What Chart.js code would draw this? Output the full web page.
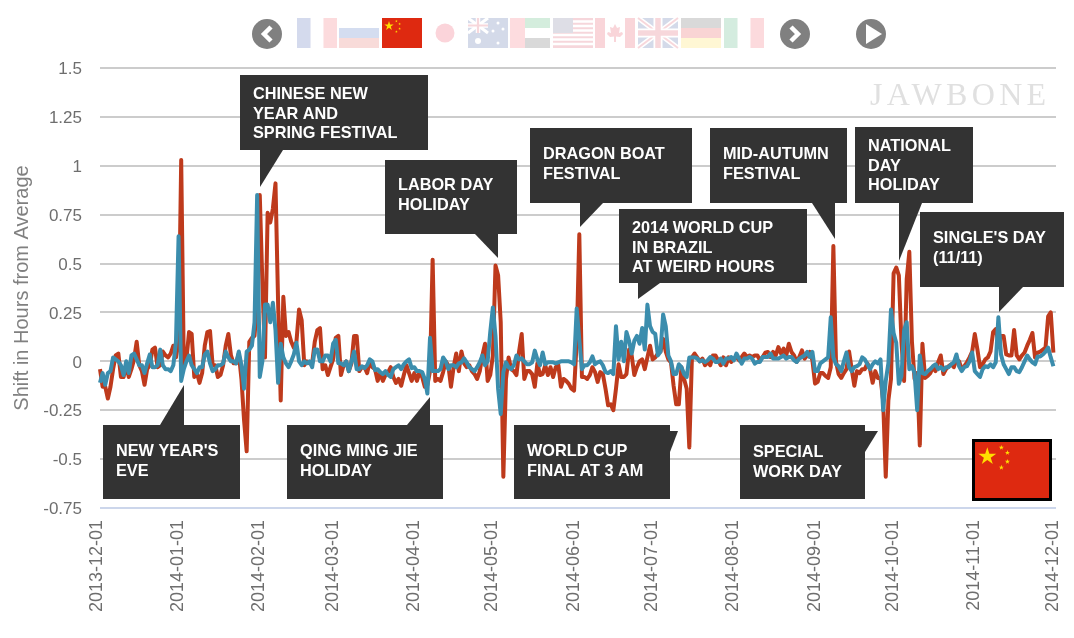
<!DOCTYPE html>
<html>
<head>
<meta charset="utf-8">
<title>Shift in Hours from Average</title>
<script src="https://cdn.jsdelivr.net/npm/chart.js@4/dist/chart.umd.min.js"></script>
<style>
  html, body { margin: 0; padding: 0; background: #fff; overflow: hidden; }
  #wrap { position: relative; width: 1074px; height: 638px; }
  #chart { position: absolute; left: 0; top: 0; }
  #overlay { position: absolute; left: 0; top: 0; pointer-events: none; }
</style>
</head>
<body>
<div id="wrap">
  <canvas id="chart" width="1074" height="638"></canvas>
  <svg id="overlay" width="1074" height="638" xmlns="http://www.w3.org/2000/svg">
    <defs>
      <polygon id="smallStar" points="0,-1.4 .33,-.43 1.33,-.43 .53,.16 .82,1.13 0,.53 -.82,1.13 -.53,.16 -1.33,-.43 -.33,-.43" fill="#FFDE00"/>
      <g id="cn">
        <rect width="40" height="30" fill="#DE2910"/>
        <polygon points="7,3 8.1,6.4 11.7,6.4 8.8,8.5 9.9,11.9 7,9.8 4.1,11.9 5.2,8.5 2.3,6.4 5.9,6.4" fill="#FFDE00"/>
        <use href="#smallStar" x="14.4" y="3.2"/>
        <use href="#smallStar" x="17.6" y="5.9"/>
        <use href="#smallStar" x="17.6" y="10.6"/>
        <use href="#smallStar" x="14.4" y="13.7"/>
      </g>
    </defs>

    <text x="870" y="105" font-family="Liberation Serif" font-size="32" letter-spacing="4.3" fill="#e0e0e0">JAWBONE</text>

    <!-- nav buttons -->
    <circle cx="267" cy="34" r="15" fill="#808080"/>
    <polyline points="271,27 264,34 271,41" fill="none" stroke="#fff" stroke-width="4.5"/>
    <circle cx="795" cy="34" r="15" fill="#808080"/>
    <polyline points="791,27 798,34 791,41" fill="none" stroke="#fff" stroke-width="4.5"/>
    <circle cx="871" cy="34" r="15" fill="#808080"/>
    <polygon points="866,24 866,44 882,34" fill="#fff"/>

    <!-- flags -->
    <g opacity="0.17">
      <g transform="translate(297,18)">
        <rect width="13.5" height="30" fill="#002395"/><rect x="26.5" width="13.5" height="30" fill="#ED2939"/>
      </g>
      <g transform="translate(339,18)">
        <rect y="10" width="40" height="10" fill="#0039A6"/><rect y="20" width="40" height="10" fill="#D52B1E"/>
      </g>
      <g transform="translate(425,18)">
        <circle cx="20" cy="15" r="9.5" fill="#E60026"/>
      </g>
      <g transform="translate(468,18)">
        <rect width="40" height="30" fill="#00247D"/>
        <path d="M0,0 L20,15 M20,0 L0,15" stroke="#fff" stroke-width="3"/>
        <path d="M10,0 V15 M0,7.5 H20" stroke="#fff" stroke-width="4.5"/>
        <path d="M10,0 V15 M0,7.5 H20" stroke="#CF142B" stroke-width="2.2"/>
        <circle cx="10" cy="23" r="3" fill="#fff"/><circle cx="30" cy="5" r="1.5" fill="#fff"/>
        <circle cx="25" cy="13" r="1.5" fill="#fff"/><circle cx="35" cy="11" r="1.5" fill="#fff"/>
        <circle cx="30" cy="25" r="1.5" fill="#fff"/>
      </g>
      <g transform="translate(510,18)">
        <rect width="15" height="30" fill="#EF3340"/><rect x="15" width="25" height="10" fill="#009739"/>
        <rect x="15" y="20" width="25" height="10" fill="#222"/>
      </g>
      <g transform="translate(553,18)">
        <rect width="40" height="30" fill="#C8102E"/>
        <path d="M0,3.5 H40 M0,8 H40 M0,12.5 H40 M0,17 H40 M0,21.5 H40 M0,26 H40" stroke="#fff" stroke-width="2.3"/>
        <rect width="20" height="15" fill="#3C3B6E"/>
      </g>
      <g transform="translate(595,18)">
        <rect width="10" height="30" fill="#D80621"/><rect x="30" width="10" height="30" fill="#D80621"/>
        <polygon points="20,6 22,10 25,9 24,15 27,14 28,16 25,19 21,18.5 21,24 19,24 19,18.5 15,19 12,16 13,14 16,15 15,9 18,10" fill="#D80621"/>
      </g>
      <g transform="translate(638,18)">
        <rect width="40" height="30" fill="#00247D"/>
        <path d="M0,0 L40,30 M40,0 L0,30" stroke="#fff" stroke-width="5"/>
        <path d="M0,0 L40,30 M40,0 L0,30" stroke="#CF142B" stroke-width="2"/>
        <path d="M20,0 V30 M0,15 H40" stroke="#fff" stroke-width="9"/>
        <path d="M20,0 V30 M0,15 H40" stroke="#CF142B" stroke-width="5.5"/>
      </g>
      <g transform="translate(681,18)">
        <rect width="40" height="10" fill="#222"/><rect y="10" width="40" height="10" fill="#DD0000"/>
        <rect y="20" width="40" height="10" fill="#FFCE00"/>
      </g>
      <g transform="translate(724,18)">
        <rect width="13.5" height="30" fill="#008C45"/><rect x="26.5" width="13.5" height="30" fill="#EE2436"/>
      </g>
    </g>
    <use href="#cn" transform="translate(382,18)"/>

    <!-- corner flag -->
    <g transform="translate(974,441.5) scale(1.9)"><use href="#cn"/></g>
    <rect x="973.5" y="440.5" width="77" height="59" fill="none" stroke="#000" stroke-width="3"/>
  </svg>
</div>

<script>
const monthTicks = ['2013-12-01', '2014-01-01', '2014-02-01', '2014-03-01', '2014-04-01', '2014-05-01',
    '2014-06-01', '2014-07-01', '2014-08-01', '2014-09-01', '2014-10-01', '2014-11-01', '2014-12-01'];
const yTicks = [1.5, 1.25, 1, 0.75, 0.5, 0.25, 0, -0.25, -0.5, -0.75];

// daily values from 2013-12-01, ten to a row
const redSeries = [
    -.04, -.13, -.13, -.19, -.13, -.04, .03, .04, -.08, -.08,
    -.02, -.08, -.04, .01, .10, -.02, -.05, -.12, -.04, -.02,
    .06, .07, -.03, -.02, .05, .03, .02, .04, .08, .02,
    .1, 1.03, -.02, .01, .15, .14, -.08, -.06, -.11, -.06,
    .08, .15, .155, -.02, -.02, -.08, -.07, -.02, .08, .14,
    .03, -.01, -.01, .04, -.09, -.3, -.46, .1, .12, .13,
    .3, .85, .4, .02, .76, .71, .78, .91, .3, -.2,
    .33, .13, .15, .1, .07, .1, .265, .21, -.02, 0,
    -.01, -.01, .1, .16, .17, -.04, -.02, -.07, -.03, .01,
    .12, .13, -.07, -.02, 0, -.05, -.01, .13, .13, -.05,
    -.03, -.03, -.06, 0, -.03, -.04, -.1, -.06, -.1, -.07,
    -.055, -.03, -.08, -.11, -.09, -.125, -.07, -.02, -.06, -.1,
    -.06, -.1, -.055, -.08, -.13, -.12, -.05, .52, -.1, -.09,
    -.1, -.055, 0, -.02, -.13, -.03, .04, -.05, .05, -.01,
    -.03, -.02, -.05, -.065, -.09, -.05, .03, .09, -.1, -.07,
    .03, .49, .44, .2, -.59, -.09, .02, -.04, -.05, -.07,
    .05, .14, -.09, -.05, -.05, -.065, -.13, -.01, -.07, -.065,
    -.02, -.07, -.03, -.08, -.03, -.02, -.13, -.09, -.1, -.115,
    -.14, -.15, .1, .65, -.08, -.08, -.09, -.07, -.03, -.055,
    -.105, -.055, -.065, -.14, -.225, -.22, -.25, -.14, -.015, -.08,
    -.08, -.065, .06, .03, -.07, -.03, 0, .01, -.04, .02,
    .08, .01, .02, .04, .05, .115, .05, .01, -.005, -.125,
    -.22, -.22, -.03, -.09, -.14, -.44, .02, .04, .02, 0,
    .014, -.02, -.003, -.02, .03, .03, .005, -.02, .02, -.02,
    .02, -.003, .014, .022, .005, .022, .04, .022, .03, .022,
    .03, .03, .005, .022, .044, .048, .022, .048, .03, .073,
    .04, .065, .03, .09, .048, .03, -.003, .022, .056, .014,
    .03, .048, .005, -.114, -.105, -.06, -.06, -.075, -.085, -.03,
    .59, 0, -.065, -.085, -.06, -.04, .05, -.04, -.125, -.05,
    -.06, -.04, -.04, -.01, -.04, -.11, -.05, -.085, -.085, -.2,
    -.59, -.2, -.09, .45, .48, .44, .1, -.1, .42, .56,
    .1, -.09, -.06, -.43, .09, -.085, -.075, -.06, -.03, -.05,
    -.005, .03, -.065, -.04, -.025, -.015, -.03, .01, 0, -.04,
    -.025, -.005, .02, .05, .14, .06, -.03, -.015, .01, .02,
    .05, .15, .165, .1, .13, .13, .035, .03, .03, .16,
    .03, .01, .03, .045, .08, .11, .145, .02, .045, .05,
    .06, .07, .23, .25, .045
];
const blueSeries = [
    -.11, -.06, -.12, -.06, -.05, .02, .01, 0, -.02, -.07,
    0, -.06, .03, .04, .01, -.02, -.02, -.06, -.01, .035,
    -.03, -.03, -.02, .06, -.02, -.04, -.04, -.05, -.02, .1,
    .64, -.1, -.04, 0, .03, -.02, -.04, -.06, -.03, -.03,
    .035, .05, -.01, -.05, -.04, -.02, -.02, -.01, .05, .02,
    0, 0, -.01, .05, -.02, -.14, .05, .06, .08, .2,
    .85, -.08, 0, .29, .29, .2, .3, .16, -.11, .09,
    .02, -.01, -.03, 0, .035, .095, 0, -.02, 0, -.01,
    0, -.03, .06, .06, 0, 0, .03, .03, 0, .09,
    .11, -.01, -.01, -.02, 0, -.05, 0, .05, -.04, -.04,
    -.025, -.035, -.02, .01, 0, -.045, -.04, -.055, -.065, -.05,
    -.07, -.08, -.04, -.03, -.02, -.04, -.015, 0, .01, -.035,
    -.03, -.05, -.05, -.055, -.09, -.165, .12, -.05, -.05, -.05,
    -.04, .02, 0, -.04, -.02, -.02, -.03, -.01, -.005, .015,
    -.005, -.03, -.04, -.05, -.03, -.005, .03, -.02, 0, .15,
    .275, .13, -.14, -.27, -.055, -.005, -.03, -.04, -.02, .03,
    .01, .015, 0, -.015, -.015, -.005, .055, .01, -.02, .045,
    -.015, -.005, -.005, -.005, -.01, -.005, 0, 0, 0, 0,
    -.005, -.015, .27, .11, -.04, -.02, -.02, -.005, .025, -.015,
    -.005, 0, -.02, -.055, -.06, -.05, -.065, .18, .01, .1,
    0, .15, .105, .04, .105, .13, .09, .17, .06, .29,
    .18, .15, .14, .03, .05, .24, .18, .03, 0, -.065,
    -.065, -.015, -.03, -.065, -.08, .02, .02, .02, .015, 0,
    .005, -.003, .005, .022, .014, -.003, -.003, .014, -.012, .014,
    .014, .022, .005, .04, .014, -.012, .014, .014, .022, .014,
    -.012, -.003, -.003, .022, .022, .022, .04, .014, .014, .014,
    .022, .03, .014, .022, .022, .005, -.003, .014, .022, .03,
    .048, .022, .048, -.05, -.05, -.01, 0, .01, .02, .225,
    .02, -.015, -.025, -.05, 0, .045, -.03, -.05, -.03, -.025,
    -.015, .02, .01, -.015, -.04, -.015, 0, -.01, .01, -.25,
    -.1, -.01, .265, .145, .095, -.115, -.075, .16, .2, -.04,
    -.025, -.06, -.25, .03, -.06, -.065, -.05, -.04, -.025, -.015,
    -.04, -.03, -.045, -.03, -.03, -.015, -.005, .035, -.025, -.05,
    -.03, -.025, 0, .045, -.05, -.065, -.08, -.04, -.025, -.03,
    -.015, -.03, -.005, .225, .035, -.015, -.04, -.065, -.03, -.03,
    -.05, -.055, -.03, 0, .03, .01, -.005, -.015, .025, .025,
    .035, .05, .07, .02, -.025
];

const calloutText = [
    ['CHINESE NEW', 'YEAR AND', 'SPRING FESTIVAL'],
    ["NEW YEAR'S", 'EVE'],
    ['QING MING JIE', 'HOLIDAY'],
    ['LABOR DAY', 'HOLIDAY'],
    ['DRAGON BOAT', 'FESTIVAL'],
    ['2014 WORLD CUP', 'IN BRAZIL', 'AT WEIRD HOURS'],
    ['WORLD CUP', 'FINAL AT 3 AM'],
    ['MID-AUTUMN', 'FESTIVAL'],
    ['NATIONAL', 'DAY', 'HOLIDAY'],
    ['SPECIAL', 'WORK DAY'],
    ["SINGLE'S DAY", '(11/11)']
];

// one entry per callout: box [x, y, w, h], pointer triangle, first baseline
const calloutLayout = [
    { box: [240, 75, 188, 75], tip: [[260, 150], [260, 187], [283, 150]], baseline: 99 },
    { box: [103, 425, 137, 74], tip: [[160, 425], [184, 385], [184, 425]], baseline: 456 },
    { box: [287, 425, 156, 74], tip: [[407, 425], [430, 397], [430, 425]], baseline: 456 },
    { box: [385, 160, 132, 74], tip: [[475, 234], [498, 258], [498, 234]], baseline: 190 },
    { box: [530, 128, 162, 75], tip: [[580, 203], [580, 227], [603, 203]], baseline: 159 },
    { box: [619, 209, 188, 74], tip: [[638, 283], [638, 299], [660, 283]], baseline: 233 },
    { box: [514, 425, 156, 74], tip: [[670, 431], [678, 431], [670, 452]], baseline: 456 },
    { box: [710, 128, 137, 75], tip: [[812, 203], [835, 239], [835, 203]], baseline: 159 },
    { box: [855, 127, 118, 76], tip: [[899, 203], [899, 261], [922, 203]], baseline: 151 },
    { box: [740, 425, 125, 74], tip: [[865, 431], [878, 431], [865, 452]], baseline: 457 },
    { box: [920, 212, 144, 75], tip: [[999, 287], [999, 312], [1023, 287]], baseline: 243 }
];

// category labels, one per day
const dayLabels = [];
for (let d = new Date(Date.UTC(2013, 11, 1)); d <= new Date(Date.UTC(2014, 11, 1)); d.setUTCDate(d.getUTCDate() + 1)) {
    dayLabels.push(d.toISOString().slice(0, 10));
}

const calloutPlugin = {
    id: 'callouts',
    afterDatasetsDraw(chart) {
        const ctx = chart.ctx;
        ctx.save();
        calloutLayout.forEach((c, i) => {
            ctx.fillStyle = '#333333';
            ctx.fillRect(c.box[0], c.box[1], c.box[2], c.box[3]);
            ctx.beginPath();
            ctx.moveTo(c.tip[0][0], c.tip[0][1]);
            ctx.lineTo(c.tip[1][0], c.tip[1][1]);
            ctx.lineTo(c.tip[2][0], c.tip[2][1]);
            ctx.closePath();
            ctx.fill();

            ctx.fillStyle = '#ffffff';
            ctx.font = 'bold 16.3px "Liberation Sans"';
            ctx.textAlign = 'left';
            ctx.textBaseline = 'alphabetic';
            calloutText[i].forEach((line, n) => {
                ctx.fillText(line, c.box[0] + 13, c.baseline + n * 19.5);
            });
        });
        ctx.restore();
    }
};

new Chart(document.getElementById('chart').getContext('2d'), {
    type: 'line',
    plugins: [calloutPlugin],
    data: {
        labels: dayLabels,
        datasets: [
            { data: blueSeries, borderColor: '#3B8DAD', borderWidth: 4, pointRadius: 0, tension: 0, order: 1, borderJoinStyle: 'round' },
            { data: redSeries, borderColor: '#BE3A1C', borderWidth: 4, pointRadius: 0, tension: 0, order: 2, borderJoinStyle: 'round' }
        ]
    },
    options: {
        responsive: false,
        animation: false,
        devicePixelRatio: 1,
        layout: { padding: { top: 68, right: 18, left: 0, bottom: 0 } },
        plugins: { legend: { display: false }, tooltip: { enabled: false } },
        scales: {
            x: {
                type: 'category',
                grid: { display: false },
                border: { display: false },
                afterFit(scale) {
                    scale.height = 130;
                    // rotated labels otherwise pull the plot in from the right
                    scale.paddingLeft = 0;
                    scale.paddingRight = 0;
                },
                ticks: {
                    autoSkip: false,
                    minRotation: 90,
                    maxRotation: 90,
                    padding: 4,
                    labelOffset: -3,
                    color: '#6e6e6e',
                    font: { family: '"Liberation Sans"', size: 18 },
                    callback(value) {
                        const label = this.getLabelForValue(value);
                        return monthTicks.includes(label) ? label : null;
                    }
                }
            },
            y: {
                min: -0.75,
                max: 1.5,
                afterFit(scale) { scale.width = 100; },
                afterBuildTicks(scale) { scale.ticks = yTicks.map(v => ({ value: v })); },
                grid: {
                    drawTicks: false,
                    lineWidth: 2,
                    color: ctx => ctx.tick && ctx.tick.value === -0.75 ? '#CCD6EB' : '#CCCCCC'
                },
                border: { display: false },
                title: {
                    display: true,
                    text: 'Shift in Hours from Average',
                    color: '#808080',
                    font: { family: '"Liberation Sans"', size: 20 },
                    padding: { top: 10, bottom: 0 }
                },
                ticks: {
                    padding: 18,
                    labelOffset: 1.5,
                    color: '#6e6e6e',
                    font: { family: '"Liberation Sans"', size: 17 },
                    callback: v => String(v)
                }
            }
        }
    }
});
</script>
</body>
</html>
